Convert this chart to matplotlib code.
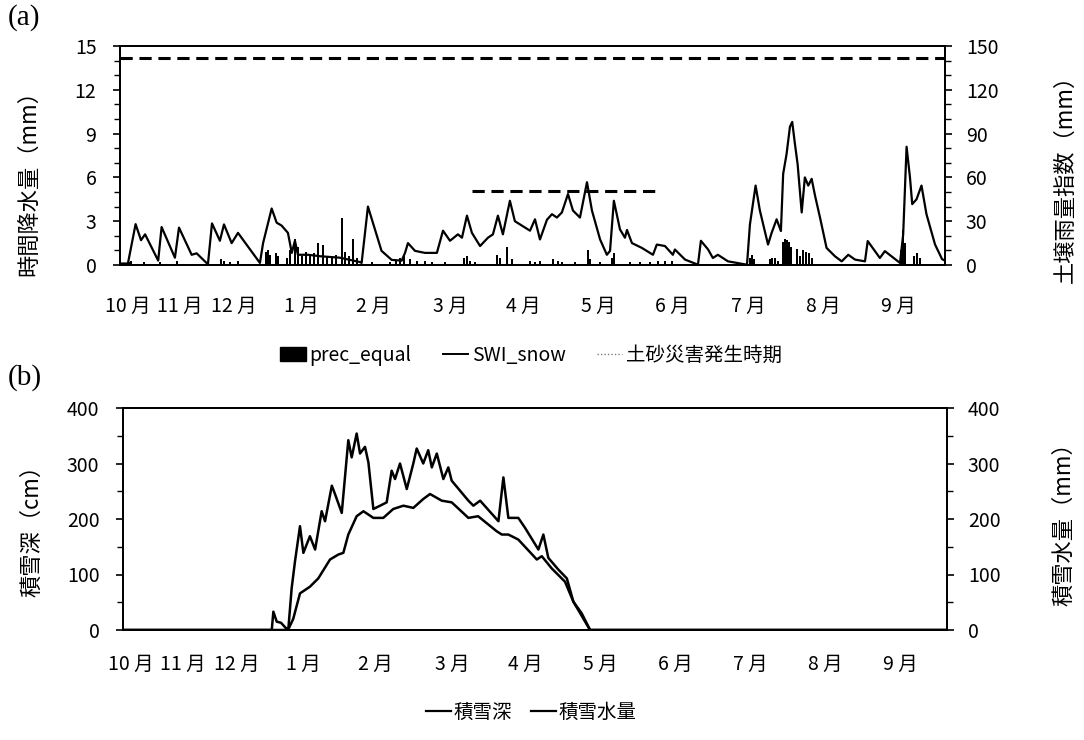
import matplotlib
matplotlib.use("Agg")
import matplotlib.pyplot as plt
from matplotlib.ticker import MultipleLocator
from matplotlib.patches import Patch
from matplotlib.lines import Line2D

plt.rcParams['font.family'] = ['Noto Sans CJK JP', 'DejaVu Sans']

# ---- data (x in days since 1 Oct) ----
month_pos = [3.5, 26.5, 50.4, 80.1, 112, 146, 178.3, 211.5, 244.6, 277.8, 311, 344.2]
month_labels = ['10 月', '11 月', '12 月', '1 月', '2 月', '3 月', '4 月', '5 月',
                '6 月', '7 月', '8 月', '9 月']

swi_day = [0.9, 3.5, 6.9, 9.3, 11.1, 16.9, 18.4, 24.3, 26.1, 31.7, 33.9, 38.9, 40.7, 44.2,
           46.0, 49.4, 52.2, 61.9, 63.3, 67.1, 69.3, 71.5, 74.3, 76.0, 77.4, 78.7, 83.2,
           88.5, 97.3, 106.2, 106.9, 109.7, 115.7, 120.2, 124.6, 126.1, 127.4, 130.5,
           134.9, 140.2, 142.9, 146.0, 149.5, 151.3, 153.5, 155.7, 159.3, 162.8, 165.0,
           167.2, 169.4, 172.5, 174.7, 179.2, 181.4, 183.6, 185.8, 188.9, 191.1, 193.3,
           195.5, 198.2, 200.4, 203.5, 206.6, 208.8, 212.4, 215.4, 216.8, 218.5, 221.2,
           223.4, 224.3, 226.5, 230.9, 235.8, 237.5, 241.1, 244.6, 245.5, 250.0, 255.7,
           257.0, 260.2, 262.3, 264.5, 269.0, 277.4, 278.7, 281.2, 283.1, 286.7, 288.3,
           290.5, 292.4, 293.4, 294.9, 296.4, 297.4, 298.6, 299.8, 301.6, 303.0, 304.5,
           306.0, 307.5, 309.7, 312.6, 316.3, 319.3, 322.2, 325.2, 329.6, 330.8, 334.0,
           336.2, 338.4, 345.1, 346.5, 348.0, 349.5, 350.5, 352.4, 354.6, 356.8, 360.6,
           363.7, 365.0]
swi_val = [1, 1, 28, 17, 21, 3, 26, 5, 25.6, 7, 8, 0.5, 28.5, 16.6,
           27.8, 15, 22, 1.4, 15, 38.7, 29, 27, 22, 8.3, 16.6, 7, 7,
           6, 5, 2, 1.4, 40, 9.7, 3.5, 3, 8.3, 15, 9.7,
           8.3, 8.3, 23.5, 16.6, 21, 18.7, 33.8, 22, 13, 18.7, 21,
           33.8, 21, 44, 30, 25.6, 23.5, 31.3, 17.5, 31, 34.8, 32.5,
           36, 48.6, 37.3, 32.5, 56.7, 37.3, 17.5, 7, 9.7, 44, 24.4,
           18.7, 24, 15, 11.7, 7, 14, 13, 7, 10.6, 3.7, 0.2,
           16.6, 10.6, 4.8, 7, 2.5, 0.2, 27.8, 54.4, 37.3, 14, 22,
           31.3, 23.3, 62.4, 76, 94.7, 98, 83, 69, 36, 60, 54.4,
           59, 47.5, 32.5, 11.7, 6, 2.5, 7, 3.7, 2.5, 16.4, 9.5,
           4.8, 9.5, 1.4, 21, 81, 60, 41.7, 45, 54.4, 34.8, 14,
           4, 3]

prec_day = [4.0, 4.9, 10.6, 17.7, 25.2, 32.3, 44.7, 46.0, 48.7, 52.2, 64.6, 65.5, 66.4,
            69.0, 69.9, 73.9, 75.2, 77.4, 78.7, 80.5, 82.3, 84.1, 85.8, 87.6, 89.8, 91.6,
            93.8, 95.6, 98.1, 99.5, 101.3, 103.1, 104.8, 111.5, 119.4, 122.1, 123.9, 125.6,
            128.3, 131.4, 134.9, 138.0, 143.8, 152.2, 153.5, 154.8, 157.1, 166.8, 168.1,
            171.2, 173.4, 181.4, 183.6, 185.8, 191.6, 193.8, 195.5, 201.3, 207.0, 207.9,
            212.4, 217.7, 218.5, 225.6, 230.0, 234.5, 238.0, 241.1, 244.2, 263.2, 278.7,
            279.6, 280.5, 282.3, 287.6, 288.4, 289.8, 291.1, 293.3, 294.2, 295.1, 296.0,
            296.9, 299.6, 300.9, 302.2, 303.5, 304.8, 306.1, 316.3, 320.8, 326.1, 337.5,
            345.5, 346.4, 347.3, 351.3, 352.6, 354.0]
prec_val = [0.2, 0.3, 0.2, 0.2, 0.3, 0.1, 0.4, 0.3, 0.2, 0.3, 0.9, 1.0, 0.7,
            0.8, 0.6, 0.5, 1.0, 1.8, 1.2, 0.6, 0.9, 0.7, 0.8, 1.5, 1.4, 0.6,
            0.5, 0.7, 3.2, 0.9, 0.6, 1.8, 0.5, 0.2, 0.2, 0.3, 0.5, 0.7,
            0.4, 0.3, 0.3, 0.2, 0.2, 0.5, 0.6, 0.3, 0.2, 0.7, 0.5,
            1.2, 0.4, 0.3, 0.2, 0.3, 0.4, 0.3, 0.2, 0.2, 1.0, 0.4,
            0.2, 0.5, 0.8, 0.2, 0.2, 0.2, 0.3, 0.3, 0.3, 0.1, 0.5,
            0.7, 0.4, 0.1, 0.4, 0.5, 0.5, 0.3, 1.6, 1.8, 1.7, 1.6,
            1.2, 1.1, 0.6, 1.0, 0.9, 0.8, 0.5, 0.1, 0.1, 0.1, 0.1,
            1.0, 2.4, 1.5, 0.6, 0.8, 0.5]

hazard_long_day = [0, 365]
hazard_long_val = [142, 142]
hazard_short_day = [155.7, 238.0]
hazard_short_val = [51, 51]

depth_day = [0, 65.9, 66.6, 68.1, 70.0, 71.8, 73.2, 74.7, 76.2, 78.4, 79.9, 82.8, 85.1, 88.0,
             89.5, 92.5, 93.9, 96.9, 99.8, 101.3, 103.5, 105.0, 107.2, 108.7, 110.9, 113.9,
             116.8, 119.0, 120.5, 122.7, 125.7, 128.6, 130.1, 133.0, 135.2, 136.8, 139.0,
             141.9, 144.1, 145.6, 153.0, 155.2, 158.2, 166.3, 168.5, 170.7, 175.1, 178.1,
             184.0, 186.2, 188.4, 192.8, 196.6, 199.5, 203.2, 206.9, 365]
depth_val = [0, 0, 33, 15, 13, 5, 0, 75, 124, 187, 139, 169, 145, 214,
             196, 260, 245, 211, 342, 311, 354, 318, 330, 302, 218, 224,
             230, 287, 272, 300, 254, 300, 327, 300, 324, 293, 318,
             272, 293, 269, 233, 224, 233, 196, 275, 202, 202, 184,
             145, 172, 130, 109, 93, 51, 30, 0, 0]

swe_day = [0, 73.1, 75.4, 78.4, 82.8, 86.5, 91.7, 95.4, 97.6, 99.8, 103.5, 106.5, 110.9,
           115.3, 119.7, 124.2, 128.6, 133.0, 136.0, 141.2, 145.6, 153.0, 157.3, 165.5,
           167.8, 170.7, 175.1, 183.3, 185.5, 189.9, 195.8, 199.5, 204.7, 206.9, 365]
swe_val = [0, 0, 20, 66, 78, 93, 127, 136, 139, 172, 205, 214, 202,
           202, 218, 224, 220, 236, 245, 233, 230, 202, 205, 178,
           172, 172, 163, 127, 133, 111, 87, 51, 15, 0, 0]

# ---- figure ----
fig = plt.figure(figsize=(10.84, 7.40), dpi=100)
W, H = 1084, 740

def box(l, t, r, b):
    return [l / W, 1 - b / H, (r - l) / W, (b - t) / H]

tick_fs = 14

# (a) top panel
ax1 = fig.add_axes(box(120, 46, 945, 265))
ax1.bar(prec_day, prec_val, width=1.0, color='black', linewidth=0)
ax1.set_xlim(0, 365)
ax1.set_ylim(0, 15)
ax1.yaxis.set_major_locator(MultipleLocator(3))
ax1.yaxis.set_minor_locator(MultipleLocator(1))
ax1.set_ylabel('時間降水量（mm）', fontsize=16)
ax1.yaxis.set_label_coords(-0.097, 0.40)

ax2 = ax1.twinx()
ax2.plot(swi_day, swi_val, color='black', lw=1.6)
ax2.plot(hazard_long_day, hazard_long_val, color='black', lw=2.2, dashes=(4, 2.2))
ax2.plot(hazard_short_day, hazard_short_val, color='black', lw=2.2, dashes=(4, 2.2))
ax2.set_ylim(0, 150)
ax2.yaxis.set_major_locator(MultipleLocator(30))
ax2.yaxis.set_minor_locator(MultipleLocator(10))
ax2.set_ylabel('土壌雨量指数（mm）', fontsize=16)
ax2.yaxis.set_label_coords(1.132, 0.42)

# (b) bottom panel
ax3 = fig.add_axes(box(123, 408, 947, 630))
ax3.plot(depth_day, depth_val, color='black', lw=1.8)
ax3.set_xlim(0, 365)
ax3.set_ylim(0, 400)
ax3.yaxis.set_major_locator(MultipleLocator(100))
ax3.yaxis.set_minor_locator(MultipleLocator(50))
ax3.set_ylabel('積雪深（cm）', fontsize=16)
ax3.yaxis.set_label_coords(-0.097, 0.47)

ax4 = ax3.twinx()
ax4.plot(swe_day, swe_val, color='black', lw=1.8)
ax4.set_ylim(0, 400)
ax4.yaxis.set_major_locator(MultipleLocator(100))
ax4.yaxis.set_minor_locator(MultipleLocator(50))
ax4.set_ylabel('積雪水量（mm）', fontsize=16)
ax4.yaxis.set_label_coords(1.128, 0.5)

for ax, xpad in ((ax1, 22), (ax3, 17)):
    ax.set_xticks(month_pos)
    ax.set_xticklabels(month_labels, fontsize=tick_fs)
    ax.tick_params(axis='x', length=0, pad=xpad)
    ax.tick_params(axis='y', which='major', direction='out', length=5, width=1.2,
                   labelsize=tick_fs, pad=12)
    ax.tick_params(axis='y', which='minor', direction='out', length=4, width=1.0)

for ax in (ax2, ax4):
    ax.tick_params(axis='y', which='major', direction='out', length=5, width=1.2,
                   labelsize=tick_fs, pad=10)
    ax.tick_params(axis='y', which='minor', direction='out', length=4, width=1.0)

for ax in (ax1, ax2, ax3, ax4):
    for s in ax.spines.values():
        s.set_linewidth(1.3)

# legends
h_a = [Patch(facecolor='black', edgecolor='black'),
       Line2D([], [], color='black', lw=1.4),
       Line2D([], [], color='gray', lw=1.0, ls=(0, (1, 1.5)))]
fig.legend(h_a, ['prec_equal', 'SWI_snow', '土砂災害発生時期'],
           loc='center', bbox_to_anchor=(0.49, 1 - 355 / H), ncol=3, frameon=False,
           fontsize=14, handlelength=1.3, handletextpad=0.2, columnspacing=1.6)

h_b = [Line2D([], [], color='black', lw=1.6), Line2D([], [], color='black', lw=1.6)]
fig.legend(h_b, ['積雪深', '積雪水量'],
           loc='center', bbox_to_anchor=(0.49, 1 - 712 / H), ncol=2, frameon=False,
           fontsize=14, handlelength=1.3, handletextpad=0.1, columnspacing=1.0)

fig.text(8 / W, 1 - 4 / H, '(a)', fontsize=21, family='Liberation Serif', va='top', ha='left')
fig.text(8 / W, 1 - 364 / H, '(b)', fontsize=21, family='Liberation Serif', va='top', ha='left')

fig.savefig('out.png', dpi=100)
